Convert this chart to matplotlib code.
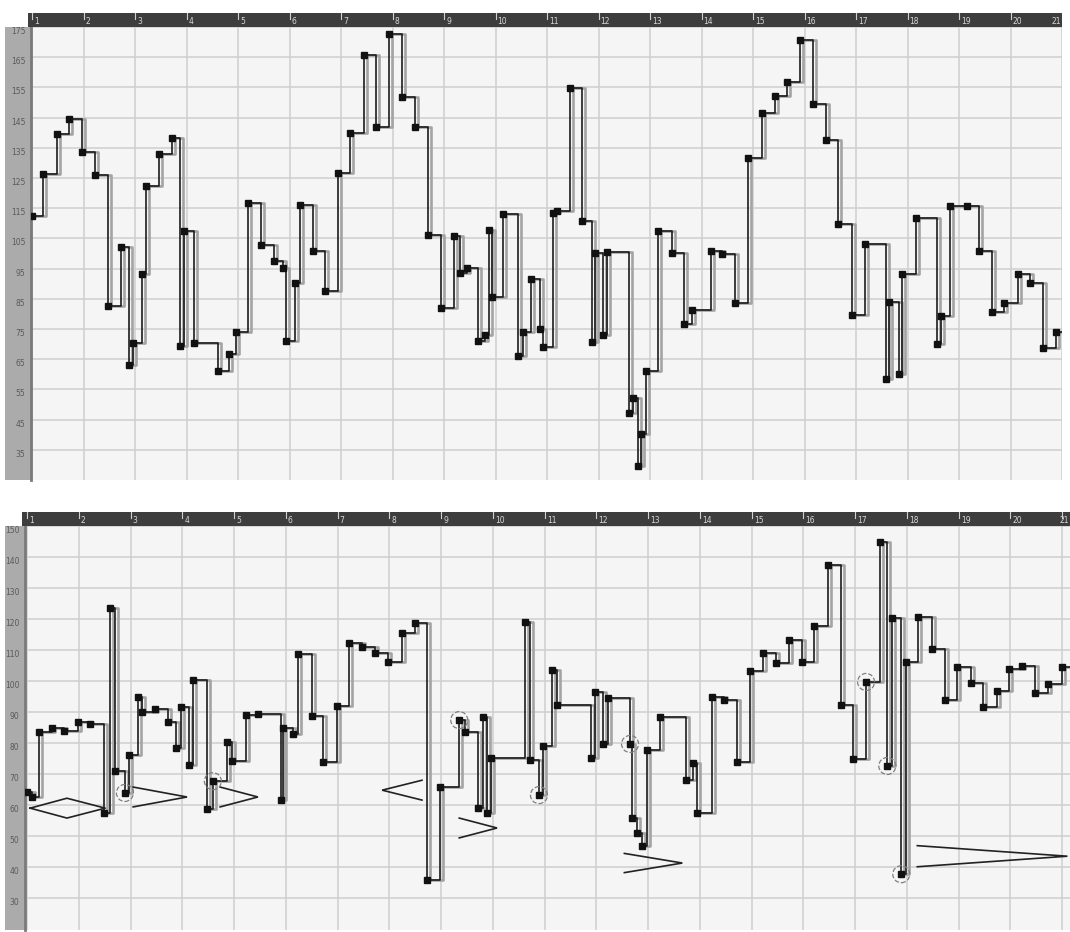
import matplotlib
matplotlib.use("Agg")
import matplotlib.pyplot as plt

# ---------------- data ----------------
measures = list(range(1, 22))

top_x = [1.00, 1.21, 1.49, 1.72, 1.97, 2.22, 2.48, 2.73, 2.88, 2.96, 3.14, 3.21, 3.47, 3.72,
         3.87, 3.95, 4.15, 4.61, 4.83, 4.96, 5.19, 5.45, 5.70, 5.87, 5.93, 6.11, 6.20, 6.46,
         6.69, 6.94, 7.17, 7.45, 7.68, 7.93, 8.18, 8.44, 8.69, 8.94, 9.19, 9.31, 9.45, 9.66,
         9.80, 9.87, 9.93, 10.15, 10.44, 10.53, 10.69, 10.86, 10.92, 11.12, 11.19, 11.45,
         11.68, 11.87, 11.93, 12.09, 12.17, 12.59, 12.67, 12.77, 12.83, 12.92, 13.16, 13.43,
         13.66, 13.82, 14.18, 14.40, 14.65, 14.90, 15.17, 15.43, 15.66, 15.91, 16.17, 16.42,
         16.65, 16.92, 17.17, 17.58, 17.64, 17.83, 17.89, 18.17, 18.57, 18.65, 18.83, 19.16,
         19.39, 19.64, 19.87, 20.15, 20.38, 20.63, 20.88]
top_y = [112.4, 126.3, 139.6, 144.5, 133.6, 126.0, 82.6, 102.2, 63.1, 70.4, 93.2, 122.4, 132.9, 138.2,
         69.4, 107.5, 70.4, 61.1, 66.7, 74.0, 116.7, 102.8, 97.5, 95.2, 71.0, 90.2, 116.1, 100.8,
         87.6, 126.7, 139.9, 165.7, 141.9, 172.7, 151.8, 141.9, 106.1, 82.0, 105.8, 93.5, 95.2, 71.0,
         73.0, 107.8, 85.6, 113.1, 66.1, 74.0, 91.6, 75.0, 69.0, 113.4, 114.1, 154.8,
         110.8, 70.7, 100.2, 73.0, 100.5, 47.2, 52.2, 29.6, 40.2, 61.1, 107.5, 100.2,
         76.7, 81.3, 100.8, 99.8, 83.6, 131.6, 146.5, 152.2, 156.8, 170.7, 149.5, 137.6,
         109.8, 79.6, 103.1, 58.4, 83.9, 60.1, 93.2, 111.8, 70.0, 79.3, 115.7, 115.7,
         100.8, 80.6, 83.6, 93.2, 90.2, 68.7, 74.0]
top_end = 21.0

bot_x = [1.00, 1.10, 1.23, 1.48, 1.71, 1.99, 2.22, 2.49, 2.60, 2.70, 2.89, 2.97, 3.14, 3.22,
         3.47, 3.72, 3.88, 3.98, 4.13, 4.21, 4.48, 4.59, 4.86, 4.96, 5.23, 5.46, 5.91, 5.95,
         6.14, 6.24, 6.51, 6.72, 6.99, 7.22, 7.47, 7.72, 7.98, 8.25, 8.50, 8.73, 8.98, 9.35,
         9.46, 9.71, 9.81, 9.89, 9.97, 10.62, 10.72, 10.89, 10.97, 11.14, 11.24, 11.90, 11.98,
         12.13, 12.23, 12.65, 12.69, 12.79, 12.88, 12.98, 13.23, 13.73, 13.87, 13.95, 14.24,
         14.47, 14.72, 14.97, 15.22, 15.47, 15.72, 15.98, 16.21, 16.48, 16.73, 16.96, 17.21,
         17.48, 17.62, 17.72, 17.89, 17.99, 18.22, 18.49, 18.74, 18.97, 19.24, 19.47, 19.74,
         19.98, 20.23, 20.48, 20.73, 21.00]
bot_y = [64.2, 62.6, 83.5, 84.8, 83.9, 86.8, 86.1, 57.4, 123.5, 71.0, 63.9, 76.1, 94.8, 90.0,
         91.0, 86.8, 78.4, 91.6, 72.9, 100.3, 58.7, 67.7, 80.3, 74.2, 89.0, 89.4, 61.6, 84.8,
         82.9, 108.7, 88.7, 73.9, 91.9, 112.3, 111.0, 109.0, 106.1, 115.5, 118.7, 35.8, 65.8, 87.4,
         83.5, 59.0, 88.4, 57.4, 75.2, 119.0, 74.5, 63.2, 79.0, 103.5, 92.3, 75.2, 96.5,
         79.7, 94.5, 79.7, 55.8, 51.0, 46.8, 77.7, 88.4, 68.1, 73.5, 57.4, 94.8,
         93.9, 73.9, 103.2, 109.0, 105.8, 113.2, 106.1, 117.7, 137.4, 92.3, 74.8, 99.7,
         144.8, 72.6, 120.3, 37.7, 106.1, 120.6, 110.3, 93.9, 104.5, 99.4, 91.6, 96.8,
         103.9, 104.8, 96.1, 99.0, 104.5]
bot_end = 21.15
bot_circled = [10, 21, 41, 49, 57, 78, 80, 82]  # indices of circled notes

# hairpins: (open-end measure, tip measure, centre value, half opening)
hairpins = [(3.05, 4.09, 62.6, 3.2), (4.73, 5.46, 62.6, 3.2), (8.63, 7.86, 64.8, 3.2),
            (9.35, 10.08, 52.6, 3.2), (12.54, 13.66, 41.3, 3.1), (18.20, 21.10, 43.5, 3.4)]
# diamond swell  (left, middle, right measure ; centre value, half height)
swell = (1.06, 1.77, 2.51, 59.0, 3.2)

top_yticks = list(range(35, 176, 10))
bot_yticks = list(range(30, 151, 10))

# ---------------- style ----------------
W, H = 1070, 932
fig = plt.figure(figsize=(W / 100, H / 100), dpi=100)
fig.patch.set_facecolor("white")

BG = "#f5f5f5"
GRID = "#cfcfcf"
STRIP = "#ababab"
RULER = "#3d3d3d"


def fx(px):
    return px / W


def fy(py):
    return 1 - py / H


def panel(left_px, right_px, top_px, bottom_px, strip_left_px, xlim, ylim, yticks,
          xs, ys, xend, circled=None):
    # grey label strip (own axes so that it sits beneath the tick labels)
    sax = fig.add_axes([fx(strip_left_px), fy(bottom_px), fx(left_px - strip_left_px),
                        fy(top_px) - fy(bottom_px)], zorder=0)
    sax.set_facecolor(STRIP)
    sax.set_xticks([])
    sax.set_yticks([])
    for s in sax.spines.values():
        s.set_visible(False)

    ax = fig.add_axes([fx(left_px), fy(bottom_px), fx(right_px - left_px),
                       fy(top_px) - fy(bottom_px)], zorder=1)
    ax.set_facecolor(BG)
    ax.set_xlim(*xlim)
    ax.set_ylim(*ylim)
    ax.set_xticks(measures)
    ax.set_yticks(yticks)
    ax.grid(True, color=GRID, lw=1.1, zorder=0)
    ax.tick_params(axis="x", length=0, labelbottom=False)
    ax.tick_params(axis="y", length=0, labelsize=5.5, labelcolor="#5a5a5a", pad=4)
    for lab in ax.get_yticklabels():
        lab.set_va("top")
    for s in ["top", "right", "bottom"]:
        ax.spines[s].set_visible(False)
    ax.spines["left"].set_color("#7a7a7a")
    ax.spines["left"].set_linewidth(2)

    sx = xs + [xend]
    sy = ys + [ys[-1]]
    ax.step([v + 0.055 for v in sx], sy, where="post", color="#a4a4a4", lw=1.9, zorder=2)
    ax.step(sx, sy, where="post", color="#1c1c1c", lw=1.2, zorder=3)
    ax.plot(xs, ys, ls="none", marker="s", ms=4.6, color="#111111", zorder=4)
    if circled:
        ax.scatter([xs[i] for i in circled], [ys[i] for i in circled], s=150,
                   facecolors="none", edgecolors="#808080", linestyles="--",
                   linewidths=0.9, zorder=5)

    # ruler bar
    rax = fig.add_axes([fx(left_px - 3), fy(top_px), fx(right_px - left_px + 3),
                        fy(top_px - 14) - fy(top_px)], zorder=2)
    rax.set_facecolor(RULER)
    x0, x1 = xlim
    rax.set_xlim(x0 - 3 * (x1 - x0) / (right_px - left_px), x1)
    rax.set_ylim(0, 1)
    rax.set_xticks([])
    rax.set_yticks([])
    for s in rax.spines.values():
        s.set_visible(False)
    for m in measures:
        if m > x1:
            continue
        rax.plot([m, m], [0.55, 1.0], color="#d0d0d0", lw=0.8)
        if x1 - m < 0.3:
            # last bar number sits against the right edge of the ruler
            rax.text(x1 - 0.01, 0.38, str(m), color="#d8d8d8", fontsize=5.5,
                     ha="right", va="center")
        else:
            rax.text(m + 0.04, 0.38, str(m), color="#d8d8d8", fontsize=5.5,
                     ha="left", va="center")
    return ax


ax1 = panel(31, 1062, 27, 480, 5, (0.98, 21.0), (25, 175), top_yticks,
            top_x, top_y, top_end)
ax2 = panel(25, 1070, 526, 930, 5, (0.96, 21.15), (19.7, 150), bot_yticks,
            bot_x, bot_y, bot_end, circled=bot_circled)

# dynamics annotations (hand drawn hairpins) on lower panel
for x_open, x_tip, c, h in hairpins:
    ax2.plot([x_open, x_tip, x_open], [c + h, c, c - h], color="#222222", lw=1.2,
             solid_joinstyle="miter", zorder=3)
l, m_, r, c, h = swell
ax2.plot([l, m_, r, m_, l], [c, c + h, c, c - h, c], color="#222222", lw=1.2, zorder=3)

fig.savefig("out.png", dpi=100)
